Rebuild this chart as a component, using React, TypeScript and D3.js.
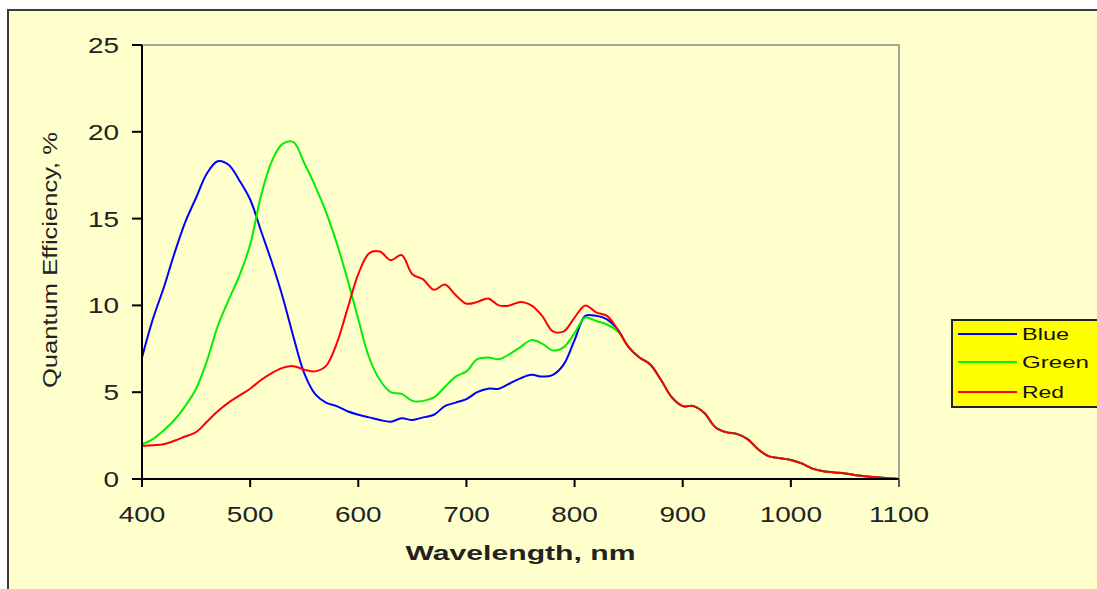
import { useEffect, useRef } from 'react';
import * as d3 from 'd3';

const W = 1097;
const H = 589;
const PLOT = { left: 142, right: 899, top: 45, bottom: 479 };
const FONT = 'Arial, "Liberation Sans", Helvetica, sans-serif';

// wavelengths (nm) where the three curves differ
const WAVELENGTH_HEAD = [
  400, 410, 420, 430, 440, 450, 460, 470, 480, 490, 500, 510, 520, 530, 540, 550,
  560, 570, 580, 590, 600, 610, 620, 630, 640, 650, 660, 670, 680, 690, 700, 710,
  720, 730, 740, 750, 760, 770, 780, 790, 800, 810, 820, 830, 840, 850,
];

const BLUE_HEAD = [
  7.0, 9.2, 11.0, 13.0, 14.8, 16.2, 17.6, 18.3, 18.1, 17.2, 16.1, 14.3, 12.5, 10.5, 8.2, 6.1,
  4.9, 4.4, 4.2, 3.9, 3.7, 3.55, 3.4, 3.3, 3.5, 3.4, 3.55, 3.7, 4.2, 4.4, 4.6, 5.0,
  5.2, 5.2, 5.5, 5.8, 6.0, 5.9, 6.0, 6.6, 8.0, 9.4, 9.4, 9.2, 8.6, 7.6,
];

const GREEN_HEAD = [
  2.0, 2.3, 2.8, 3.4, 4.2, 5.2, 6.8, 8.8, 10.3, 11.7, 13.5, 16.3, 18.3, 19.3, 19.4, 18.2,
  16.9, 15.4, 13.6, 11.5, 9.2, 7.0, 5.7, 5.0, 4.9, 4.5, 4.5, 4.7, 5.3, 5.9, 6.2, 6.9,
  7.0, 6.9, 7.2, 7.6, 8.0, 7.8, 7.4, 7.6, 8.4, 9.3, 9.1, 8.9, 8.5, 7.6,
];

const RED_HEAD = [
  1.9, 1.95, 2.0, 2.2, 2.45, 2.7, 3.3, 3.9, 4.4, 4.8, 5.2, 5.7, 6.1, 6.4, 6.5, 6.3,
  6.2, 6.5, 7.8, 9.8, 11.8, 13.0, 13.1, 12.6, 12.9, 11.8, 11.5, 10.9, 11.2, 10.6, 10.1, 10.2,
  10.4, 10.0, 10.0, 10.2, 10.0, 9.4, 8.5, 8.5, 9.3, 10.0, 9.6, 9.4, 8.6, 7.6,
];

// above 850 nm the three channels coincide
const WAVELENGTH_TAIL = [
  860, 870, 880, 890, 900, 910, 920, 930, 940, 950, 960, 970, 980, 990, 1000, 1010,
  1020, 1030, 1040, 1050, 1060, 1070, 1080, 1090, 1100,
];
const TAIL = [
  7.0, 6.6, 5.7, 4.7, 4.2, 4.2, 3.8, 3.0, 2.7, 2.6, 2.3, 1.7, 1.3, 1.2, 1.1, 0.9,
  0.6, 0.45, 0.38, 0.32, 0.22, 0.15, 0.1, 0.05, 0.0,
];

const SERIES = [
  { name: 'Blue', color: '#0000ff', values: BLUE_HEAD },
  { name: 'Green', color: '#00ee00', values: GREEN_HEAD },
  { name: 'Red', color: '#ff0000', values: RED_HEAD },
];

const X_TICKS = [400, 500, 600, 700, 800, 900, 1000, 1100];
const Y_TICKS = [0, 5, 10, 15, 20, 25];
const LEGEND_TEXT_LEN: Record<string, number> = { Blue: 47, Green: 67, Red: 42 };

const SX = 1.27; // reference is stretched horizontally

export default function App() {
  const svgRef = useRef<SVGSVGElement>(null);

  useEffect(() => {
    if (!svgRef.current) return;
    const svg = d3.select(svgRef.current);
    svg.selectAll('*').remove();

    const x = d3.scaleLinear().domain([400, 1100]).range([PLOT.left, PLOT.right]);
    const y = d3.scaleLinear().domain([0, 25]).range([PLOT.bottom, PLOT.top]);

    // background + frame
    svg.append('rect').attr('width', W).attr('height', H).attr('fill', '#ffffff');
    svg.append('rect').attr('x', 8).attr('y', 10).attr('width', W).attr('height', H)
      .attr('fill', '#ffffcc').attr('stroke', '#3a3a3a').attr('stroke-width', 2);

    // plot border (top/right gray)
    svg.append('path')
      .attr('d', `M${PLOT.left},${PLOT.top}H${PLOT.right}V${PLOT.bottom}`)
      .attr('fill', 'none').attr('stroke', '#8a8a8a').attr('stroke-width', 1.5);

    // curves
    const line = d3.line<[number, number]>()
      .x((d) => x(d[0]))
      .y((d) => y(d[1]))
      .curve(d3.curveCatmullRom.alpha(0.5));

    SERIES.forEach((s) => {
      const pts: [number, number][] = [
        ...WAVELENGTH_HEAD.map((w, i) => [w, s.values[i]] as [number, number]),
        ...WAVELENGTH_TAIL.map((w, i) => [w, TAIL[i]] as [number, number]),
      ];
      svg.append('path')
        .attr('d', line(pts))
        .attr('fill', 'none')
        .attr('stroke', s.color)
        .attr('stroke-width', 2);
    });

    // axes
    svg.append('line')
      .attr('x1', PLOT.left).attr('x2', PLOT.left)
      .attr('y1', PLOT.top).attr('y2', PLOT.bottom + 1)
      .attr('stroke', '#000').attr('stroke-width', 2);
    svg.append('line')
      .attr('x1', PLOT.left - 1).attr('x2', PLOT.right)
      .attr('y1', PLOT.bottom).attr('y2', PLOT.bottom)
      .attr('stroke', '#000').attr('stroke-width', 2);

    Y_TICKS.forEach((t) => {
      svg.append('line')
        .attr('x1', PLOT.left - 10).attr('x2', PLOT.left)
        .attr('y1', y(t)).attr('y2', y(t))
        .attr('stroke', '#000').attr('stroke-width', 2);
      svg.append('text')
        .attr('transform', `translate(119,${y(t) + 8}) scale(${SX},1)`)
        .attr('text-anchor', 'end')
        .attr('font-size', 22)
        .attr('fill', '#222')
        .text(String(t));
    });

    X_TICKS.forEach((t) => {
      svg.append('line')
        .attr('x1', x(t)).attr('x2', x(t))
        .attr('y1', PLOT.bottom).attr('y2', PLOT.bottom + 8)
        .attr('stroke', t === 1100 ? '#555' : '#000').attr('stroke-width', 2);
      svg.append('text')
        .attr('transform', `translate(${x(t)},522) scale(${SX},1)`)
        .attr('text-anchor', 'middle')
        .attr('font-size', 22)
        .attr('fill', '#222')
        .text(String(t));
    });

    // axis titles
    svg.append('text')
      .attr('x', (PLOT.left + PLOT.right) / 2 - 115)
      .attr('y', 560)
      .attr('font-size', 21)
      .attr('font-weight', 'bold')
      .attr('fill', '#222')
      .attr('textLength', 230)
      .attr('lengthAdjust', 'spacingAndGlyphs')
      .text('Wavelength, nm');

    svg.append('text')
      .attr('transform', `translate(57,388) rotate(-90)`)
      .attr('font-size', 21)
      .attr('fill', '#222')
      .attr('textLength', 256)
      .attr('lengthAdjust', 'spacingAndGlyphs')
      .text('Quantum Efficiency, %');

    // legend
    svg.append('rect')
      .attr('x', 952).attr('y', 320).attr('width', 150).attr('height', 87)
      .attr('fill', '#ffff00').attr('stroke', '#222').attr('stroke-width', 2);
    SERIES.forEach((s, i) => {
      const ly = [334, 362, 392][i];
      svg.append('line')
        .attr('x1', 958).attr('x2', 1017)
        .attr('y1', ly).attr('y2', ly)
        .attr('stroke', s.color).attr('stroke-width', 2);
      svg.append('text')
        .attr('x', 1022).attr('y', ly + 6)
        .attr('font-size', 17)
        .attr('fill', '#111')
        .attr('textLength', LEGEND_TEXT_LEN[s.name])
        .attr('lengthAdjust', 'spacingAndGlyphs')
        .text(s.name);
    });
  }, []);

  return (
    <svg
      ref={svgRef}
      width={W}
      height={H}
      style={{ position: 'absolute', left: 0, top: 0, fontFamily: FONT }}
    />
  );
}
